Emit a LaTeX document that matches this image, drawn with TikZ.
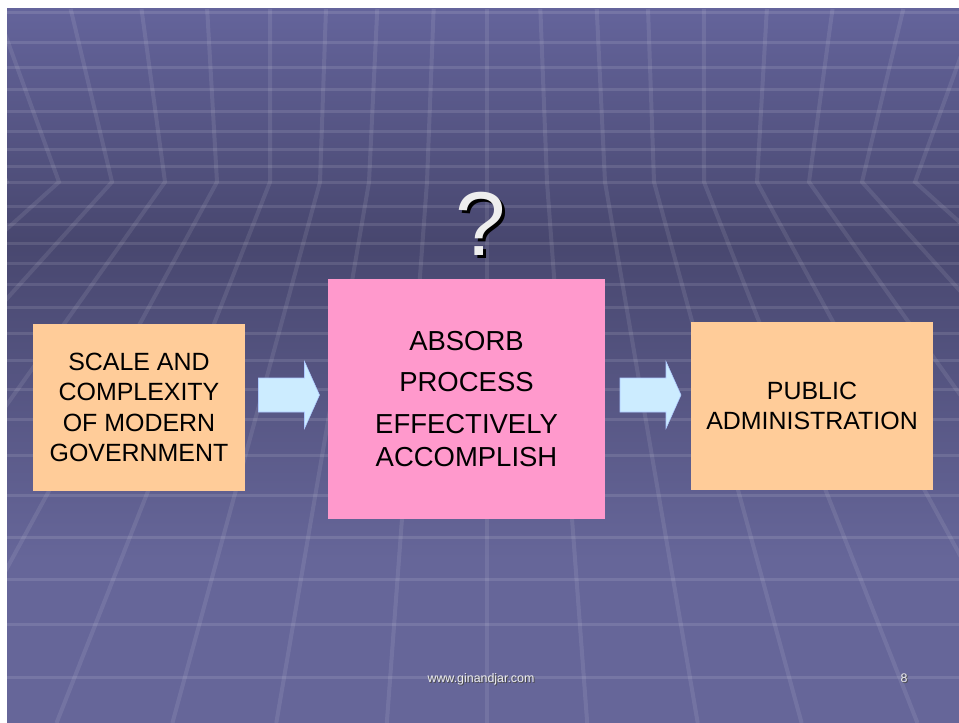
\documentclass[tikz,border=0pt]{standalone}
\usepackage{fontspec}
\setmainfont{Liberation Sans}
\usepackage{tikz}
\usetikzlibrary{calc}
\definecolor{slidetop}{HTML}{64649B}
\definecolor{slidemid}{HTML}{48476F}
\definecolor{slidebot}{HTML}{666699}
\definecolor{boxorange}{HTML}{FFCC99}
\definecolor{boxpink}{HTML}{FF99CC}
\definecolor{arrowblue}{HTML}{CCECFF}
\definecolor{markwhite}{HTML}{EEEEEE}
\newcommand{\px}{0.75pt}
\tikzset{
 sidebox/.style={fill=boxorange, align=center, inner sep=0pt, font=\fontsize{18.7}{22.9}\selectfont},
 midbox/.style={fill=boxpink, align=center, inner sep=0pt, minimum width=277*\px, minimum height=240*\px, font=\fontsize{20.6}{25}\selectfont},
 gridline/.style={white, opacity=.09, line width=4*\px},
 rowline/.style={white, opacity=.11, line width=3*\px},
 blockarrow/.style={fill=arrowblue, draw=arrowblue!85!blue, line width=.4pt},
 qfont/.style={font=\fontsize{68}{68}\selectfont},
 footfont/.style={font=\fontsize{9.3}{11}\selectfont, anchor=base},
}

\begin{document}
\begin{tikzpicture}[x=\px, y=-\px]
\useasboundingbox (0,0) rectangle (959,723);
\fill[white] (0,0) rectangle (959,723);
% slide background
\shade[top color=slidetop, bottom color=slidemid] (7,9) rectangle (959,240);
\shade[top color=slidemid, bottom color=slidebot] (7,240) rectangle (959,560);
\fill[slidebot] (7,560) rectangle (959,723);
\begin{scope}
\clip (7,9) rectangle (959,723);
\foreach \y in {13,43,68,90,112,132,150,167,183,207,225,244,264,285,308,333,360,389,419,455,495,537,579,624,677}
 \draw[rowline] (7,\y) -- (959,\y);
\foreach \d in {-480,-428,-375,-322,-270,-217,-167,-118,-60,0,60,118,167,217,270,322,375,428,480} {
 \pgfmathsetmacro\xt{487+\d*(1+0.0007*(abs(\d)-218))}
 \pgfmathsetmacro\xb{487+\d*(1.55+0.002*abs(\d))}
 \draw[gridline] (\xt,9) -- (487+\d,182) -- (\xb,723);
}
\end{scope}

\node[sidebox, minimum width=212*\px, minimum height=167*\px] (scale) at (139,407.5) {SCALE AND\\COMPLEXITY\\OF MODERN\\GOVERNMENT};
\node[midbox] (absorb) at (466.5,399) {ABSORB\\[5.5pt]PROCESS\\[6.5pt]EFFECTIVELY\\ACCOMPLISH};
\node[sidebox, minimum width=242*\px, minimum height=168*\px] (public) at (812,406) {PUBLIC\\ADMINISTRATION};

\foreach \a/\b in {scale/absorb, absorb/public} {
 \coordinate (m) at ($(\a.east)!.5!(\b.west)$);
 \coordinate (m) at ($(m |- absorb.center)+(0,-4)$);
 \filldraw[blockarrow] ($(m)+(-28,-17)$) -- ++(46,0) -- ++(0,-16.5) -- ++(15,33.5) -- ++(-15,33.5) -- ++(0,-16.5) -- ++(-46,0) -- cycle;
}

\node[qfont, text=black] (qshadow) at (484,227) {?};
\node[qfont, text=markwhite] (qmark) at (481,224) {?};

\node[footfont, text=black!70] (webshadow) at (482,683) {www.ginandjar.com};
\node[footfont, text=markwhite] (web) at (481,682) {www.ginandjar.com};
\node[footfont, text=black!70] (pageshadow) at (905,683) {8};
\node[footfont, text=markwhite] (page) at (904,682) {8};
\end{tikzpicture}
\end{document}
